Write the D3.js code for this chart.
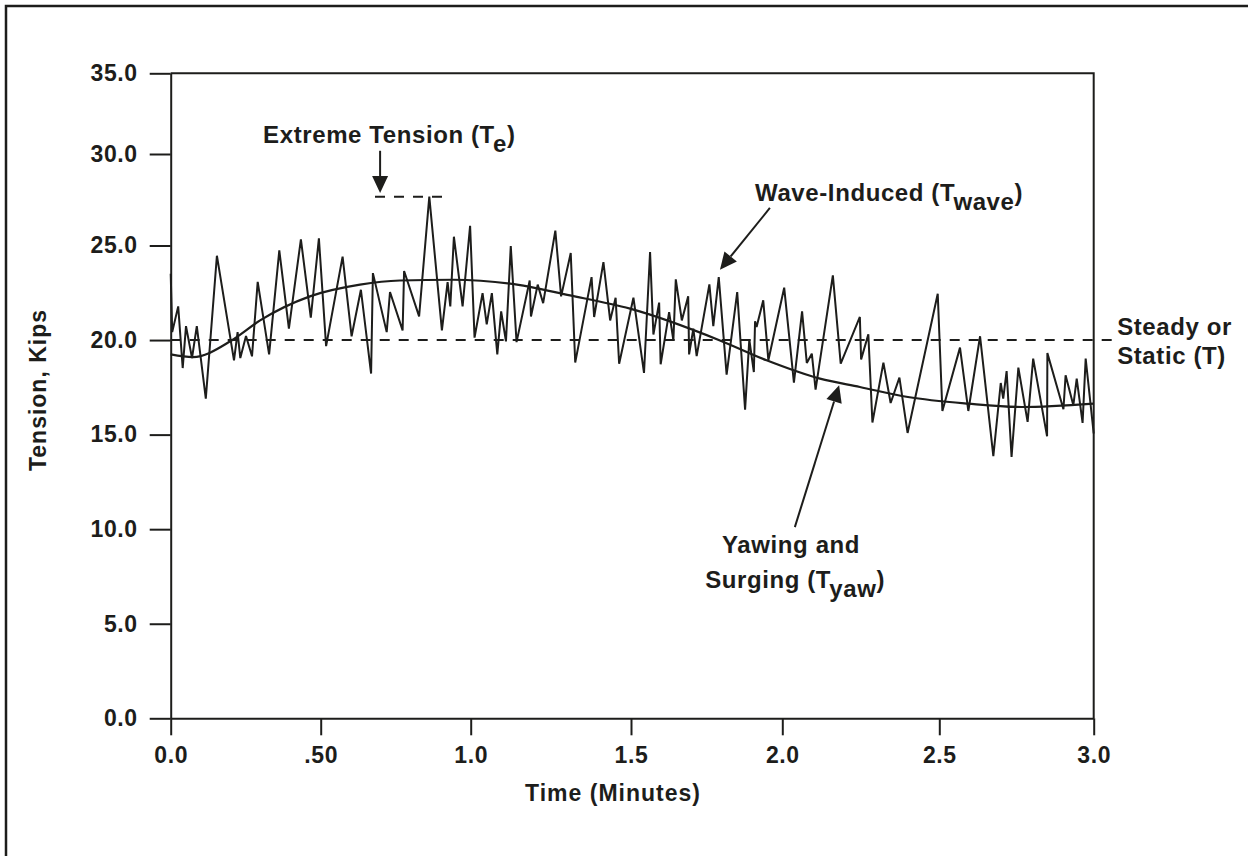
<!DOCTYPE html>
<html>
<head>
<meta charset="utf-8">
<script src="https://cdn.jsdelivr.net/npm/d3@7"></script>
<style>
  body { margin: 0; background: #fff; }
  text { font-family: "Liberation Sans", Arial, sans-serif; font-weight: bold; fill: #1d1d1b; }
</style>
</head>
<body>
<script>
// wave-induced tension record (minutes / kips)
const waveTime = [
    0.000, 0.005, 0.025, 0.040, 0.051, 0.071, 0.087, 0.117, 0.154, 0.211,
    0.223, 0.232, 0.251, 0.271, 0.290, 0.328, 0.362, 0.394, 0.434, 0.467,
    0.494, 0.518, 0.573, 0.603, 0.634, 0.668, 0.674, 0.720, 0.731, 0.773,
    0.778, 0.828, 0.862, 0.904, 0.923, 0.932, 0.944, 0.973, 0.998, 1.012,
    1.037, 1.050, 1.066, 1.083, 1.095, 1.110, 1.125, 1.143, 1.184, 1.188,
    1.209, 1.226, 1.264, 1.282, 1.312, 1.326, 1.377, 1.385, 1.414, 1.435,
    1.452, 1.463, 1.508, 1.543, 1.563, 1.574, 1.593, 1.598, 1.626, 1.640,
    1.648, 1.668, 1.689, 1.692, 1.706, 1.717, 1.759, 1.772, 1.790, 1.816,
    1.851, 1.877, 1.891, 1.906, 1.910, 1.915, 1.937, 1.954, 2.006, 2.037,
    2.063, 2.078, 2.094, 2.106, 2.161, 2.186, 2.247, 2.251, 2.274, 2.287,
    2.322, 2.345, 2.373, 2.399, 2.495, 2.510, 2.567, 2.594, 2.632, 2.675,
    2.699, 2.707, 2.718, 2.734, 2.756, 2.786, 2.804, 2.849, 2.850, 2.902,
    2.909, 2.934, 2.945, 2.964, 2.974, 3.000
];
const waveTension = [
    23.51, 20.42, 21.78, 18.52, 20.74, 19.05, 20.74, 16.90, 24.46, 18.93,
    20.42, 19.05, 20.21, 19.14, 23.08, 19.24, 24.74, 20.60, 25.34, 21.18,
    25.39, 19.68, 24.41, 20.20, 22.66, 18.23, 23.54, 20.42, 22.54, 20.51,
    23.65, 21.25, 27.67, 20.51, 23.06, 21.78, 25.48, 21.78, 26.08, 20.13,
    22.48, 20.83, 22.48, 19.24, 21.52, 19.93, 24.97, 19.89, 23.15, 21.25,
    22.93, 21.95, 25.81, 22.31, 24.60, 18.81, 23.33, 21.22, 24.12, 21.04,
    22.24, 18.75, 22.24, 18.26, 24.65, 20.29, 21.98, 18.72, 21.48, 19.98,
    23.21, 21.04, 22.31, 19.24, 20.60, 19.15, 22.94, 20.74, 23.33, 18.17,
    22.54, 16.32, 20.02, 18.31, 20.99, 20.69, 22.10, 18.93, 22.77, 17.75,
    21.52, 18.79, 19.28, 17.38, 23.42, 18.75, 21.22, 18.98, 20.30, 15.64,
    18.81, 16.67, 18.01, 15.09, 22.45, 16.25, 19.60, 16.25, 20.20, 13.86,
    17.73, 16.90, 18.36, 13.82, 18.54, 15.67, 19.02, 14.91, 19.31, 16.34,
    18.14, 16.55, 17.96, 15.62, 19.02, 15.06
];

// slow yawing / surging component
const yawTime = [0, 0.074, 0.203, 0.298, 0.464, 0.631, 0.764, 0.941, 1.123, 1.310,
    1.497, 1.794, 1.948, 2.120, 2.247, 2.400, 2.593, 2.767, 3.0];
const yawTension = [19.24, 19.10, 19.98, 21.04, 22.31, 22.93, 23.15, 23.19, 22.98, 22.36,
    21.66, 19.98, 18.93, 17.96, 17.52, 16.99, 16.64, 16.46, 16.64];

const steadyTension = 20.0;
const steadyEnd = 3.06;
const extremeTension = 27.67;
const extremeSpan = [0.681, 0.908];

const xTicks = [0, 0.5, 1, 1.5, 2, 2.5, 3];
const xTickLabels = ["0.0", ".50", "1.0", "1.5", "2.0", "2.5", "3.0"];
const yTicks = [0, 5, 10, 15, 20, 25, 30, 35];

const ink = "#1d1d1b";

let svg = d3.select("body").append("svg")
    .attr("width", 1248)
    .attr("height", 856);

// printed axes are not evenly spaced, so both scales are piecewise
let x = d3.scaleLinear().domain(xTicks).range([170.7, 320.7, 470.7, 631, 782.3, 939.3, 1093.7]);
let y = d3.scaleLinear().domain([0, 25, 30, 35]).range([718.3, 245.5, 154, 73.3]);

// page frame (only top and left edge fall inside the picture)
svg.append("path")
    .attr("d", "M6,870V6H1260")
    .attr("fill", "none")
    .attr("stroke", ink)
    .attr("stroke-width", 2.5);

function styleAxis(g, size) {
    g.attr("font-family", null).attr("font-size", null);
    g.selectAll("path, line").attr("stroke", ink).attr("stroke-width", 2);
    g.selectAll("text")
        .attr("fill", ink)
        .style("font-size", size + "px")
        .style("letter-spacing", "0.6px");
}

svg.append("g")
    .attr("transform", "translate(0," + y(0) + ")")
    .call(d3.axisBottom(x)
        .tickValues(xTicks)
        .tickFormat((d, i) => xTickLabels[i])
        .tickSize(17)
        .tickSizeOuter(0)
        .tickPadding(11))
    .call(g => styleAxis(g, 23));

svg.append("g")
    .attr("transform", "translate(" + x(0) + ",0)")
    .call(d3.axisLeft(y)
        .tickValues(yTicks)
        .tickFormat(d3.format(".1f"))
        .tickSize(21)
        .tickSizeOuter(0)
        .tickPadding(12))
    .call(g => styleAxis(g, 23));

// top and right edges of the plot box
svg.append("path")
    .attr("d", d3.line()([[x(0), y(35)], [x(3), y(35)], [x(3), y(0)]]))
    .attr("fill", "none")
    .attr("stroke", ink)
    .attr("stroke-width", 2);

// steady line
svg.append("line")
    .attr("x1", x(0)).attr("x2", x(steadyEnd))
    .attr("y1", y(steadyTension)).attr("y2", y(steadyTension))
    .attr("stroke", ink)
    .attr("stroke-width", 2)
    .attr("stroke-dasharray", "10,9");

// extreme marker
svg.append("line")
    .attr("x1", x(extremeSpan[0])).attr("x2", x(extremeSpan[1]))
    .attr("y1", y(extremeTension)).attr("y2", y(extremeTension))
    .attr("stroke", ink)
    .attr("stroke-width", 2)
    .attr("stroke-dasharray", "10,9");

// yawing curve
svg.append("path")
    .datum(d3.zip(yawTime, yawTension))
    .attr("fill", "none")
    .attr("stroke", ink)
    .attr("stroke-width", 2.2)
    .attr("d", d3.line()
        .x(d => x(d[0]))
        .y(d => y(d[1]))
        .curve(d3.curveMonotoneX));

// wave record
svg.append("path")
    .datum(d3.zip(waveTime, waveTension))
    .attr("fill", "none")
    .attr("stroke", ink)
    .attr("stroke-width", 2)
    .attr("stroke-linejoin", "miter")
    .attr("stroke-miterlimit", 3)
    .attr("d", d3.line()
        .x(d => x(d[0]))
        .y(d => y(d[1])));

// arrows, in data coordinates
const arrows = [
    {from: [0.698, 30.2], to: [0.698, 27.87]},
    {from: [1.959, 27.05], to: [1.794, 23.72]},
    {from: [2.040, 10.11], to: [2.181, 17.61]}
];

arrows.forEach(function (a) {
    let x1 = x(a.from[0]), y1 = y(a.from[1]);
    let x2 = x(a.to[0]), y2 = y(a.to[1]);
    let ang = Math.atan2(y2 - y1, x2 - x1);
    let len = 17, half = 8;
    let bx = x2 - len * Math.cos(ang), by = y2 - len * Math.sin(ang);

    svg.append("line")
        .attr("x1", x1).attr("y1", y1)
        .attr("x2", bx).attr("y2", by)
        .attr("stroke", ink)
        .attr("stroke-width", 2);

    svg.append("path")
        .attr("d", d3.line()([
            [x2, y2],
            [bx + half * Math.sin(ang), by - half * Math.cos(ang)],
            [bx - half * Math.sin(ang), by + half * Math.cos(ang)]
        ]) + "Z")
        .attr("fill", ink);
});

// labels with a lowered subscript
function label(t, v, main, sub, tail) {
    let txt = svg.append("text")
        .attr("x", x(t))
        .attr("y", y(v))
        .style("font-size", "24px")
        .style("letter-spacing", "0.6px");
    txt.append("tspan").text(main);
    if (sub) {
        txt.append("tspan").attr("dy", 9).text(sub);
        txt.append("tspan").attr("dy", -9).text(tail);
    }
    return txt;
}

label(0.308, 30.70, "Extreme Tension (T", "e", ")");
label(1.910, 27.45, "Wave-Induced (T", "wave", ")");
label(1.801, 8.73, "Yawing and");
label(1.745, 6.88, "Surging (T", "yaw", ")");

let steady = svg.append("text")
    .attr("x", x(3.076))
    .attr("y", y(20.25))
    .style("font-size", "24px")
    .style("letter-spacing", "0.6px");
steady.append("tspan").text("Steady or");
steady.append("tspan").attr("x", x(3.076)).attr("dy", 28.3).text("Static (T)");

// axis titles
svg.append("text")
    .attr("x", 613)
    .attr("y", 801)
    .attr("text-anchor", "middle")
    .style("font-size", "23px")
    .style("letter-spacing", "1px")
    .text("Time (Minutes)");

svg.append("text")
    .attr("transform", "translate(46,390) rotate(-90)")
    .attr("text-anchor", "middle")
    .style("font-size", "23px")
    .style("letter-spacing", "1px")
    .text("Tension, Kips");
</script>
</body>
</html>
